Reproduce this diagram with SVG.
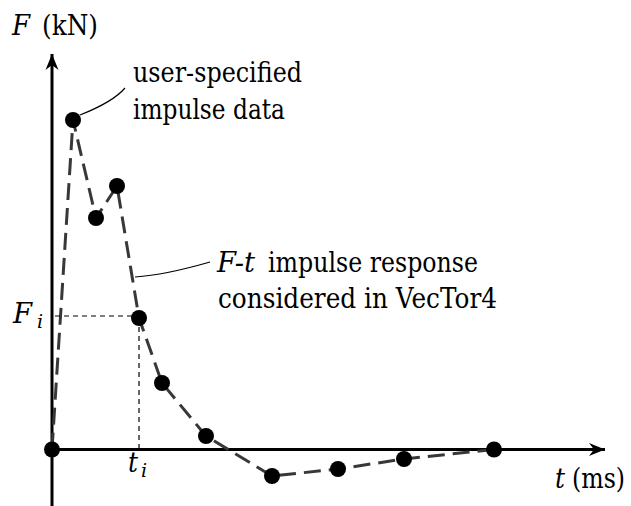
<svg xmlns="http://www.w3.org/2000/svg" width="631" height="506" viewBox="0 0 631 506">
<style>
.t{font-family:'DejaVu Serif',serif;font-size:27px;fill:#000}
.it{font-style:italic}
.sub{font-size:19px}
.axis{stroke:#000;stroke-width:3;fill:none}
.curve{stroke:#383838;stroke-width:3;fill:none;stroke-dasharray:17,8}
.ref{stroke:#000;stroke-width:1.2;fill:none;stroke-dasharray:5,4}
.lead{stroke:#000;stroke-width:1.2;fill:none}
.dot{fill:#000}
</style>
<defs>
<marker id="arr" markerUnits="userSpaceOnUse" markerWidth="20" markerHeight="16" viewBox="-18 -8 20 16" refX="0" refY="0" orient="auto">
<path d="M0,0 L-16,-6.5 L-11,0 L-16,6.5 Z" fill="#000"/>
</marker>
</defs>
<g id="axes">
<line class="axis" x1="52" y1="506" x2="52" y2="54" marker-end="url(#arr)"/>
<line class="axis" x1="52" y1="449.5" x2="605" y2="449.5" marker-end="url(#arr)"/>
</g>
<g id="connectors">
<polyline class="curve" points="52,449.5 73,120 96,218 117,186 139,318 162,383 206,436 272,476 338,469 404,459 494,449.5"/>
<line class="ref" x1="55" y1="316" x2="139" y2="316"/>
<line class="ref" x1="139" y1="318" x2="139" y2="449"/>
<path class="lead" d="M80,115 Q113,102 125,88"/>
<path class="lead" d="M135,277 Q165,275 210,262"/>
</g>
<g id="points">
<circle class="dot" cx="52" cy="449.5" r="8"/>
<circle class="dot" cx="73" cy="120" r="8"/>
<circle class="dot" cx="96" cy="218" r="8"/>
<circle class="dot" cx="117" cy="186" r="8"/>
<circle class="dot" cx="139" cy="318" r="8"/>
<circle class="dot" cx="162" cy="383" r="8"/>
<circle class="dot" cx="206" cy="436" r="8"/>
<circle class="dot" cx="272" cy="476" r="8"/>
<circle class="dot" cx="338" cy="469" r="8"/>
<circle class="dot" cx="404" cy="459" r="8"/>
<circle class="dot" cx="494" cy="449.5" r="8"/>
</g>
<g id="labels">
<text class="t it" x="12" y="35" textLength="18" lengthAdjust="spacingAndGlyphs">F</text>
<text class="t" x="42" y="35" textLength="56" lengthAdjust="spacingAndGlyphs">(kN)</text>
<text class="t" x="133" y="82" textLength="169" lengthAdjust="spacingAndGlyphs">user-specified</text>
<text class="t" x="133" y="119" textLength="152" lengthAdjust="spacingAndGlyphs">impulse data</text>
<text class="t it" x="217" y="272" textLength="38" lengthAdjust="spacingAndGlyphs">F-t</text>
<text class="t" x="268" y="272" textLength="210" lengthAdjust="spacingAndGlyphs">impulse response</text>
<text class="t" x="218" y="308" textLength="279" lengthAdjust="spacingAndGlyphs">considered in VecTor4</text>
<text class="t it" x="13" y="323" textLength="19" lengthAdjust="spacingAndGlyphs">F</text>
<text class="t it sub" x="37" y="328">i</text>
<text class="t it" x="128" y="472" textLength="10" lengthAdjust="spacingAndGlyphs">t</text>
<text class="t it sub" x="141" y="477">i</text>
<text class="t it" x="555" y="488" textLength="10" lengthAdjust="spacingAndGlyphs">t</text>
<text class="t" x="572" y="488" textLength="53" lengthAdjust="spacingAndGlyphs">(ms)</text>
</g>
</svg>
